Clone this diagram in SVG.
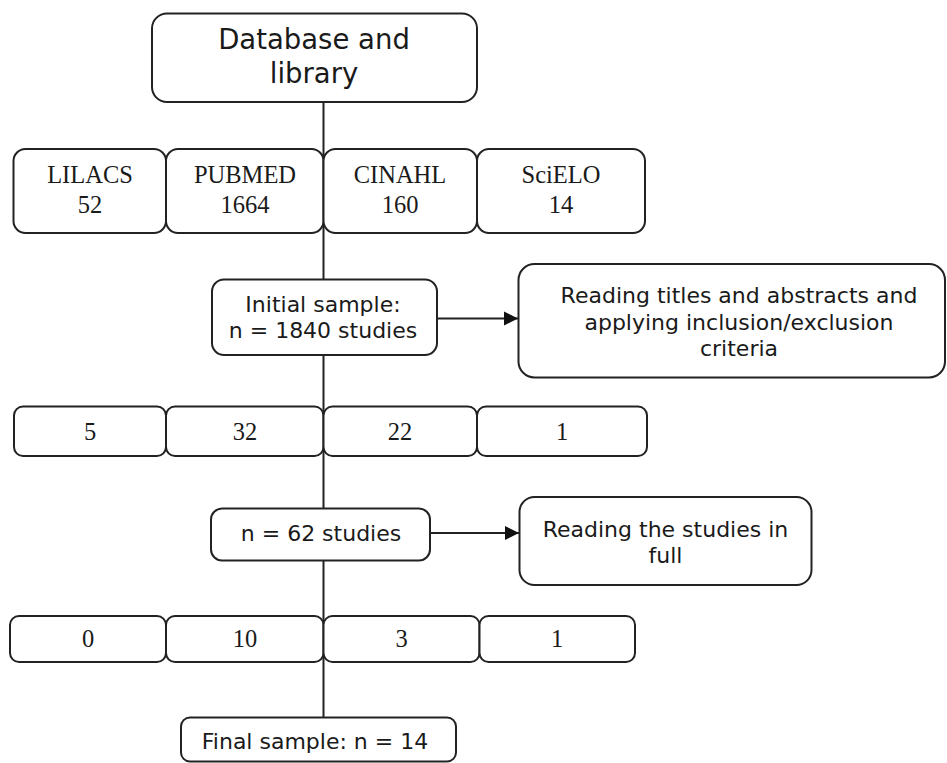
<svg xmlns="http://www.w3.org/2000/svg" width="947" height="763" viewBox="0 0 947 763">
<defs>
<style>
.box{fill:#fff;stroke:#222;stroke-width:2}
.sans{font-family:"DejaVu Sans","Liberation Sans",sans-serif;fill:#1a1a1a;text-anchor:middle}
.serif{font-family:"Liberation Serif","Times New Roman",serif;font-size:24.5px;fill:#1a1a1a;text-anchor:middle}
.conn{stroke:#222;stroke-width:2;fill:none}
</style>
<marker id="arr" markerWidth="15" markerHeight="16" refX="14" refY="8" orient="auto" markerUnits="userSpaceOnUse">
<path d="M0,1 L14,8 L0,15 Z" fill="#111"/>
</marker>
</defs>
<rect width="947" height="763" fill="#fff"/>
<g id="connectors">
<line class="conn" x1="323.5" y1="102" x2="323.5" y2="717"/>
<line class="conn" x1="437" y1="318.5" x2="518" y2="318.5" marker-end="url(#arr)"/>
<line class="conn" x1="430" y1="533" x2="519" y2="533" marker-end="url(#arr)"/>
</g>
<g id="database">
<rect class="box" x="152" y="13.5" width="325" height="88.5" rx="15"/>
<text class="sans" font-size="27.5" x="314" y="49">Database and</text>
<text class="sans" font-size="27.5" x="314" y="83">library</text>
</g>
<g id="lilacs">
<rect class="box" x="13.5" y="149" width="152.5" height="84" rx="12"/>
<text class="serif" x="90" y="183">LILACS</text>
<text class="serif" x="90" y="213">52</text>
</g>
<g id="pubmed">
<rect class="box" x="166" y="149" width="157.5" height="84" rx="12"/>
<text class="serif" x="245" y="183">PUBMED</text>
<text class="serif" x="245" y="213">1664</text>
</g>
<g id="cinahl">
<rect class="box" x="323.5" y="149" width="153.5" height="84" rx="12"/>
<text class="serif" x="400" y="183">CINAHL</text>
<text class="serif" x="400" y="213">160</text>
</g>
<g id="scielo">
<rect class="box" x="477" y="149" width="168" height="84" rx="12"/>
<text class="serif" x="561" y="183">SciELO</text>
<text class="serif" x="561" y="213">14</text>
</g>
<g id="initial-sample">
<rect class="box" x="212" y="279.5" width="225" height="75.5" rx="12"/>
<text class="sans" font-size="22" x="323" y="312">Initial sample:</text>
<text class="sans" font-size="22" x="323" y="338">n = 1840 studies</text>
</g>
<g id="reading-titles">
<rect class="box" x="518.5" y="264" width="426.5" height="113.5" rx="16"/>
<text class="sans" font-size="22" x="739" y="303">Reading titles and abstracts and</text>
<text class="sans" font-size="22" x="739" y="330">applying inclusion/exclusion</text>
<text class="sans" font-size="22" x="739" y="356">criteria</text>
</g>
<g id="r2-lilacs">
<rect class="box" x="14" y="406.5" width="152" height="49.5" rx="9"/>
<text class="serif" x="90" y="439.5">5</text>
</g>
<g id="r2-pubmed">
<rect class="box" x="166" y="406.5" width="157.5" height="49.5" rx="9"/>
<text class="serif" x="245" y="439.5">32</text>
</g>
<g id="r2-cinahl">
<rect class="box" x="323.5" y="406.5" width="153.5" height="49.5" rx="9"/>
<text class="serif" x="400" y="439.5">22</text>
</g>
<g id="r2-scielo">
<rect class="box" x="477" y="406.5" width="170" height="49.5" rx="9"/>
<text class="serif" x="562" y="439.5">1</text>
</g>
<g id="n62">
<rect class="box" x="211" y="508.5" width="219" height="52" rx="11"/>
<text class="sans" font-size="22" x="321" y="541">n = 62 studies</text>
</g>
<g id="reading-full">
<rect class="box" x="519.5" y="497" width="292" height="88" rx="15"/>
<text class="sans" font-size="22" x="665.5" y="537">Reading the studies in</text>
<text class="sans" font-size="22" x="665.5" y="563">full</text>
</g>
<g id="r3-lilacs">
<rect class="box" x="10" y="616" width="156" height="46" rx="9"/>
<text class="serif" x="88" y="647">0</text>
</g>
<g id="r3-pubmed">
<rect class="box" x="166" y="616" width="157.5" height="46" rx="9"/>
<text class="serif" x="245" y="647">10</text>
</g>
<g id="r3-cinahl">
<rect class="box" x="323.5" y="616" width="156" height="46" rx="9"/>
<text class="serif" x="401.5" y="647">3</text>
</g>
<g id="r3-scielo">
<rect class="box" x="479.5" y="616" width="155.5" height="46" rx="9"/>
<text class="serif" x="557" y="647">1</text>
</g>
<g id="final-sample">
<rect class="box" x="181" y="717.5" width="275" height="44" rx="9"/>
<text class="sans" font-size="22" x="315" y="748.5">Final sample: n = 14</text>
</g>
</svg>
